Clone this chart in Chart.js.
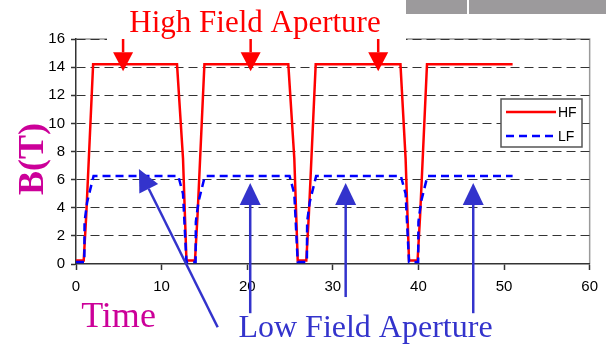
<!DOCTYPE html>
<html>
<head>
<meta charset="utf-8">
<script src="https://cdn.jsdelivr.net/npm/chart.js@4.4.0/dist/chart.umd.min.js"></script>
<style>
  html, body { margin: 0; padding: 0; background: #fff; }
  #wrap { width: 606px; height: 347px; position: relative; }
</style>
</head>
<body>
<div id="wrap"><canvas id="chart" width="606" height="347"></canvas></div>
<script>
// HF / LF field vs time
const hfTime  = [0, 0.9, 1.2, 2.0, 11.8, 12.5, 12.9, 13.9, 14.2, 15.0, 24.8, 25.5, 25.9, 26.9, 27.2, 28.0, 37.9, 38.5, 38.9, 39.9, 40.2, 41.0, 51];
const hfField = [0.25, 0.25, 3.5, 14.2, 14.2, 7.5, 0.25, 0.25, 3.5, 14.2, 14.2, 7.5, 0.25, 0.25, 3.5, 14.2, 14.2, 7.5, 0.25, 0.25, 3.5, 14.2, 14.2];

const lfTime  = [0, 0.97, 1.0, 1.3, 2.05, 11.95, 12.5, 12.9, 13.97, 14.0, 14.3, 15.05, 24.95, 25.5, 25.9, 26.97, 27.0, 27.3, 28.05, 37.95, 38.5, 38.9, 39.97, 40.0, 40.3, 41.05, 51];
const lfField = [0.15, 0.15, 3.0, 4.4, 6.25, 6.25, 5.0, 0.15, 0.15, 3.0, 4.4, 6.25, 6.25, 5.0, 0.15, 0.15, 3.0, 4.4, 6.25, 6.25, 5.0, 0.15, 0.15, 3.0, 4.4, 6.25, 6.25];

const seriesLabels = ['HF', 'LF'];
const xTicks = [0, 10, 20, 30, 40, 50, 60];
const yTicks = [0, 2, 4, 6, 8, 10, 12, 14, 16];

// annotation arrows (data coords)
const hfArrowTimes = [5.5, 20.4, 35.3];
const hfArrowTip = 13.7, hfArrowTail = 16;
const lfArrowTimes = [20.35, 31.5, 46.4];
const lfArrowTails = [-3.5, -2.35, -3.5];
const lfArrowTip = 5.76;
const lfDiagTail = { x: 16.55, y: -4.5 };
const lfDiagTip = { x: 7.35, y: 6.75 };

const RED = '#FF0000';
const BLUE = '#0000FF';
const ARROW_BLUE = '#3333CC';
const MAGENTA = '#CC0099';
const SERIF = '"Liberation Serif", "Times New Roman", serif';

Chart.defaults.font.family = '"Liberation Sans", Arial, sans-serif';
Chart.defaults.color = '#000';

const pts = (xs, ys) => xs.map((x, i) => ({ x, y: ys[i] }));

function arrow(c, x1, y1, x2, y2, color, headLen, headW) {
  const ang = Math.atan2(y2 - y1, x2 - x1);
  const bx = x2 - headLen * Math.cos(ang), by = y2 - headLen * Math.sin(ang);
  c.save();
  c.strokeStyle = color;
  c.fillStyle = color;
  c.lineWidth = 2.5;
  c.beginPath();
  c.moveTo(x1, y1);
  c.lineTo(bx, by);
  c.stroke();
  c.beginPath();
  c.moveTo(x2, y2);
  c.lineTo(bx + headW / 2 * Math.sin(ang), by - headW / 2 * Math.cos(ang));
  c.lineTo(bx - headW / 2 * Math.sin(ang), by + headW / 2 * Math.cos(ang));
  c.closePath();
  c.fill();
  c.restore();
}

// Plot frame (gray top/right) drawn under the grid
const framePlugin = {
  id: 'frame',
  beforeDraw(ch) {
    const { ctx: c, chartArea: a } = ch;
    c.save();
    c.strokeStyle = '#9a9a9a';
    c.lineWidth = 1.5;
    c.beginPath();
    c.moveTo(a.left, a.top);
    c.lineTo(a.right, a.top);
    c.lineTo(a.right, a.bottom);
    c.stroke();
    c.restore();
  },
};

// Titles, arrows, legend
const notesPlugin = {
  id: 'notes',
  afterDraw(ch) {
    const { ctx: c, scales: { x, y } } = ch;
    c.save();

    // slide remnants: white title box and gray bar
    c.fillStyle = '#fff';
    c.fillRect(107, 0, 299, 41);
    c.fillStyle = '#9C9A9C';
    c.fillRect(406, 0, 200, 14);
    c.fillStyle = '#fff';
    c.fillRect(467, 0, 2, 14);

    c.textAlign = 'center';
    c.textBaseline = 'alphabetic';
    c.fillStyle = RED;
    c.font = `31px ${SERIF}`;
    c.fillText('High Field Aperture', 255, 32);

    hfArrowTimes.forEach(t => {
      const px = x.getPixelForValue(t);
      arrow(c, px, y.getPixelForValue(hfArrowTail), px, y.getPixelForValue(hfArrowTip), RED, 19, 20);
    });

    lfArrowTimes.forEach((t, i) => {
      const px = x.getPixelForValue(t);
      arrow(c, px, y.getPixelForValue(lfArrowTails[i]), px, y.getPixelForValue(lfArrowTip), ARROW_BLUE, 22, 21);
    });
    arrow(c, x.getPixelForValue(lfDiagTail.x), y.getPixelForValue(lfDiagTail.y),
      x.getPixelForValue(lfDiagTip.x), y.getPixelForValue(lfDiagTip.y), ARROW_BLUE, 22, 21);

    c.fillStyle = ARROW_BLUE;
    c.font = `32px ${SERIF}`;
    c.fillText('Low Field Aperture', 365.5, 337);

    c.fillStyle = MAGENTA;
    c.font = `36px ${SERIF}`;
    c.fillText('Time', 118.5, 327);

    c.save();
    c.translate(43, 159);
    c.rotate(-Math.PI / 2);
    c.font = `bold 36px ${SERIF}`;
    c.fillText('B(T)', 0, 0);
    c.restore();

    // legend box
    c.fillStyle = '#fff';
    c.fillRect(501, 99, 81, 48);
    c.strokeStyle = '#555';
    c.lineWidth = 1.5;
    c.strokeRect(501, 99, 81, 48);
    const ds = ch.data.datasets;
    [112, 136].forEach((ly, i) => {
      c.strokeStyle = ds[i].borderColor;
      c.lineWidth = 2.5;
      c.setLineDash(ds[i].borderDash || []);
      c.beginPath();
      c.moveTo(506, ly);
      c.lineTo(556, ly);
      c.stroke();
      c.setLineDash([]);
      c.fillStyle = '#000';
      c.font = '14px "Liberation Sans", Arial, sans-serif';
      c.textAlign = 'left';
      c.textBaseline = 'middle';
      c.fillText(ds[i].label, 558, ly + 1);
    });

    c.restore();
  },
};

new Chart(document.getElementById('chart'), {
  type: 'line',
  plugins: [framePlugin, notesPlugin],
  data: {
    datasets: [
      {
        label: seriesLabels[0],
        data: pts(hfTime, hfField),
        borderColor: RED,
        borderWidth: 2.5,
        pointRadius: 0,
        tension: 0,
        fill: false,
        order: 1,
      },
      {
        label: seriesLabels[1],
        data: pts(lfTime, lfField),
        borderColor: BLUE,
        borderWidth: 2.5,
        borderDash: [8, 5],
        pointRadius: 0,
        tension: 0,
        fill: false,
        order: 0,
      },
    ],
  },
  options: {
    responsive: false,
    animation: false,
    events: [],
    layout: { padding: { left: 0, top: 39, right: 15, bottom: 0 } },
    plugins: { legend: { display: false }, tooltip: { enabled: false } },
    scales: {
      x: {
        type: 'linear',
        min: 0,
        max: 60,
        afterBuildTicks: s => { s.ticks = xTicks.map(v => ({ value: v })); },
        afterFit: s => { s.height = 83; },
        ticks: { font: { size: 15 }, padding: 8, maxRotation: 0, color: '#000' },
        grid: { drawOnChartArea: false, tickLength: 6, tickColor: '#333', tickWidth: 1.5 },
        border: { color: '#333', width: 1.5 },
      },
      y: {
        min: 0,
        max: 16,
        afterBuildTicks: s => { s.ticks = yTicks.map(v => ({ value: v })); },
        afterFit: s => { s.width = 76; },
        ticks: { font: { size: 15 }, padding: 6, color: '#000' },
        grid: {
          color: ctx => (ctx.tick && ctx.tick.value === 0 ? 'rgba(0,0,0,0)' : '#333'),
          lineWidth: 1,
          tickLength: 5,
          tickColor: '#333',
          tickWidth: 1.5,
          tickBorderDash: [],
        },
        border: { color: '#333', width: 1.5, dash: [9, 5] },
      },
    },
  },
});
</script>
</body>
</html>
